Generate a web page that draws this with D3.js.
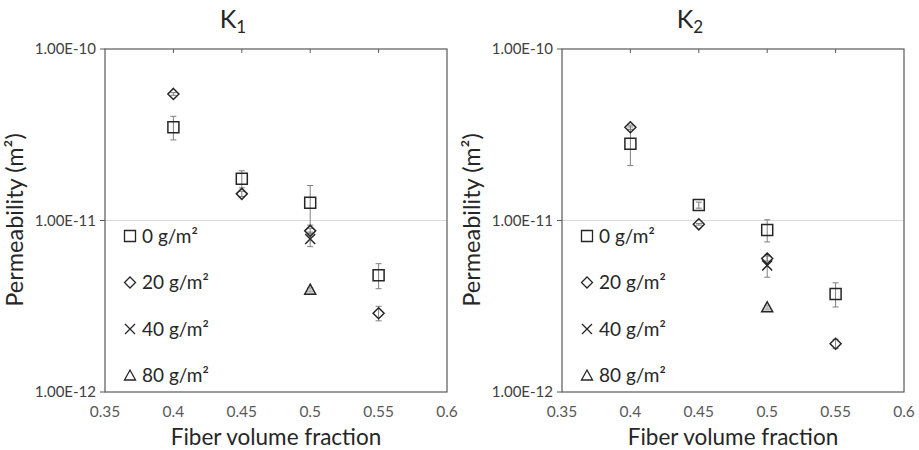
<!DOCTYPE html>
<html>
<head>
<meta charset="utf-8">
<script src="https://cdn.jsdelivr.net/npm/d3@7"></script>
<style>
  body { margin: 0; background: #fff; }
  text { font-family: Lato, "Open Sans", sans-serif; }
</style>
</head>
<body>
<div id="chart"></div>
<script>
// fibre volume fractions (x)
const fractions = [0.4, 0.45, 0.5, 0.55];
const xTicks = [0.35, 0.4, 0.45, 0.5, 0.55, 0.6];
const yTicks = [1e-12, 1e-11, 1e-10];
const seriesNames = ["0 g/m²", "20 g/m²", "40 g/m²", "80 g/m²"];
const symbols = ["square", "diamond", "cross", "triangle"];

// K1 values and error half-widths
const k1Sq = [3.5e-11, 1.75e-11, 1.27e-11, 4.8e-12];
const k1SqErr = [0.55e-11, 0.2e-11, 0.33e-11, 0.8e-12];
const k1Di = [5.47e-11, 1.43e-11, 8.7e-12, 2.88e-12];
const k1DiErr = [0.1e-11, 0.05e-11, 0.3e-12, 0.28e-12];
const k1X = [null, null, 7.8e-12, null];
const k1XErr = [null, null, 0.76e-12, null];
const k1Tri = [null, null, 3.95e-12, null];
const k1TriErr = [null, null, 0.1e-12, null];

// K2 values and error half-widths
const k2Sq = [2.8e-11, 1.23e-11, 8.8e-12, 3.73e-12];
const k2SqErr = [0.71e-11, 0.05e-11, 1.3e-12, 0.6e-12];
const k2Di = [3.5e-11, 9.5e-12, 6.0e-12, 1.91e-12];
const k2DiErr = [0.1e-11, 0.1e-12, 0.2e-12, 0.12e-12];
const k2X = [null, null, 5.47e-12, null];
const k2XErr = [null, null, 0.8e-12, null];
const k2Tri = [null, null, 3.12e-12, null];
const k2TriErr = [null, null, 0.08e-12, null];

const W = 919, H = 450;
const svg = d3.select("#chart").append("svg")
    .attr("width", W).attr("height", H);

function markerPath(sym) {
    if (sym === "square") return "M-5.5,-5.5H5.5V5.5H-5.5Z";
    if (sym === "diamond") return "M0,-5.5L5.5,0L0,5.5L-5.5,0Z";
    if (sym === "triangle") return "M0,-5.5L5.5,4.5H-5.5Z";
    return "M-5,-5L5,5M-5,5L5,-5";
}

function drawPanel(left, title, sub, series) {
    const x = d3.scaleLinear().domain([0.35, 0.6]).range([left, left + 342]);
    const y = d3.scaleLog().domain([1e-12, 1e-10]).range([392, 49]);
    const g = svg.append("g");

    // gridline at 1e-11
    g.append("line")
        .attr("x1", x(0.35)).attr("x2", x(0.6))
        .attr("y1", y(1e-11)).attr("y2", y(1e-11))
        .attr("stroke", "#d9d9d9").attr("stroke-width", 1);

    // plot frame
    g.append("rect")
        .attr("x", x(0.35)).attr("y", y(1e-10))
        .attr("width", x(0.6) - x(0.35)).attr("height", y(1e-12) - y(1e-10))
        .attr("fill", "none").attr("stroke", "#595959").attr("stroke-width", 1.2);

    // x ticks at top, inward
    g.selectAll(".xt").data(xTicks.slice(1, -1)).enter().append("line")
        .attr("x1", d => x(d)).attr("x2", d => x(d))
        .attr("y1", y(1e-10)).attr("y2", y(1e-10) + 4)
        .attr("stroke", "#595959");
    // y ticks left, outward
    g.selectAll(".yt").data(yTicks).enter().append("line")
        .attr("x1", x(0.35) - 5).attr("x2", x(0.35))
        .attr("y1", d => y(d)).attr("y2", d => y(d))
        .attr("stroke", "#595959");

    g.selectAll(".xl").data(xTicks).enter().append("text")
        .attr("x", d => x(d)).attr("y", 417)
        .attr("text-anchor", "middle")
        .attr("font-size", 15.5).attr("fill", "#595959")
        .text(d => d);
    g.selectAll(".yl").data(yTicks).enter().append("text")
        .attr("x", x(0.35) - 9).attr("y", d => y(d) + 5)
        .attr("text-anchor", "end")
        .attr("font-size", 15).attr("fill", "#404040")
        .text(d => d3.format(".2e")(d).toUpperCase());

    // title
    const t = g.append("text")
        .attr("x", x(0.35) + 128).attr("y", 28)
        .attr("text-anchor", "middle")
        .attr("font-size", 25).attr("fill", "#262626");
    t.append("tspan").text(title);
    t.append("tspan").attr("font-size", 17).attr("dy", 5).text(sub);

    // axis titles
    g.append("text")
        .attr("transform", "translate(" + (left - 82) + "," + 220 + ") rotate(-90)")
        .attr("text-anchor", "middle")
        .attr("font-size", 23.5).attr("fill", "#262626")
        .text("Permeability (m²)");
    g.append("text")
        .attr("x", x(0.475)).attr("y", 445)
        .attr("text-anchor", "middle")
        .attr("font-size", 22.5).attr("fill", "#262626")
        .text("Fiber volume fraction");

    // error bars then markers
    series.forEach((s, si) => {
        fractions.forEach((f, i) => {
            const v = s.vals[i];
            if (v === null) return;
            const e = s.errs[i];
            const yt = y(v + e), yb = y(v - e), xc = x(f);
            g.append("path")
                .attr("d", "M" + xc + "," + yt + "V" + yb +
                    "M" + (xc - 3) + "," + yt + "H" + (xc + 3) +
                    "M" + (xc - 3) + "," + yb + "H" + (xc + 3))
                .attr("stroke", "#7f7f7f").attr("stroke-width", 1).attr("fill", "none");
        });
    });
    series.forEach((s, si) => {
        fractions.forEach((f, i) => {
            const v = s.vals[i];
            if (v === null) return;
            g.append("path")
                .attr("transform", "translate(" + x(f) + "," + y(v) + ")")
                .attr("d", markerPath(symbols[si]))
                .attr("fill", symbols[si] === "triangle" ? "#bfbfbf" : "none")
                .attr("fill-opacity", symbols[si] === "triangle" ? 0.7 : 0)
                .attr("stroke", "#262626").attr("stroke-width", 1.5);
        });
    });

    // legend
    const lg = g.append("g");
    seriesNames.forEach((n, i) => {
        const ly = 236 + i * 46.5;
        lg.append("path")
            .attr("transform", "translate(" + (left + 25) + "," + ly + ")")
            .attr("d", markerPath(symbols[i]))
            .attr("fill", "none").attr("stroke", "#262626").attr("stroke-width", 1.3);
        lg.append("text")
            .attr("x", left + 37).attr("y", ly + 6.5)
            .attr("font-size", 19).attr("fill", "#262626")
            .text(n);
    });
}

drawPanel(105, "K", "1", [
    {vals: k1Sq, errs: k1SqErr},
    {vals: k1Di, errs: k1DiErr},
    {vals: k1X, errs: k1XErr},
    {vals: k1Tri, errs: k1TriErr}
]);
drawPanel(562, "K", "2", [
    {vals: k2Sq, errs: k2SqErr},
    {vals: k2Di, errs: k2DiErr},
    {vals: k2X, errs: k2XErr},
    {vals: k2Tri, errs: k2TriErr}
]);
</script>
</body>
</html>
